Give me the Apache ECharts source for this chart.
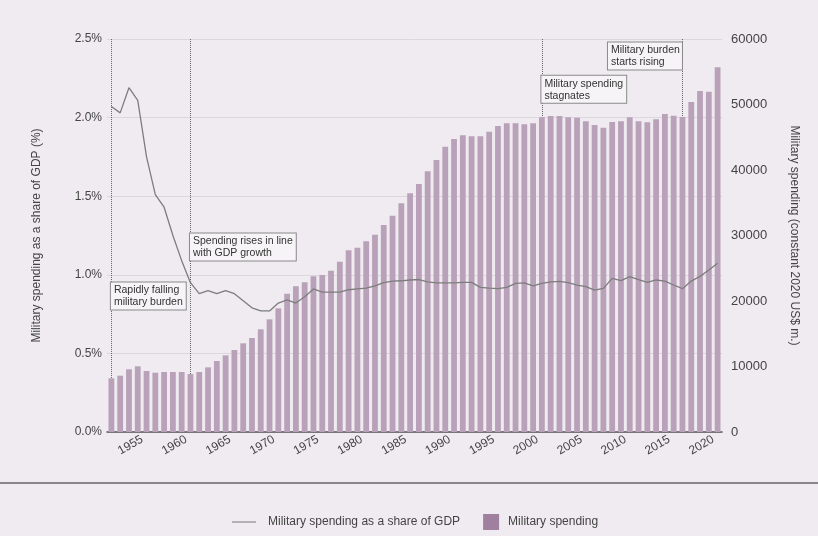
<!DOCTYPE html>
<html>
<head>
<meta charset="utf-8">
<script src="https://cdn.jsdelivr.net/npm/echarts@6/dist/echarts.min.js"></script>
<style>
  html, body { margin: 0; padding: 0; background: #efebf0; }
  #chart { width: 818px; height: 536px; }
</style>
</head>
<body>
<div id="chart"></div>
<script>
const years = ['1952','1953','1954','1955','1956','1957','1958','1959','1960','1961',
  '1962','1963','1964','1965','1966','1967','1968','1969','1970','1971',
  '1972','1973','1974','1975','1976','1977','1978','1979','1980','1981',
  '1982','1983','1984','1985','1986','1987','1988','1989','1990','1991',
  '1992','1993','1994','1995','1996','1997','1998','1999','2000','2001',
  '2002','2003','2004','2005','2006','2007','2008','2009','2010','2011',
  '2012','2013','2014','2015','2016','2017','2018','2019','2020','2021'];

// military spending, constant 2020 US$ m.
const spending = [8200, 8600, 9570, 10030, 9310, 9050, 9160, 9160, 9160, 8850,
  9160, 9870, 10840, 11700, 12520, 13540, 14350, 15680, 17200, 18880,
  21120, 22240, 22850, 23770, 23970, 24630, 26000, 27740, 28140, 29110,
  30120, 31600, 33020, 34920, 36440, 37860, 39800, 41530, 43560, 44730,
  45290, 45140, 45140, 45850, 46720, 47130, 47130, 46980, 47130, 48040,
  48240, 48240, 48040, 47990, 47430, 46870, 46460, 47330, 47430, 48040,
  47430, 47280, 47740, 48550, 48290, 48090, 50380, 52060, 51950, 55680];

// share of GDP (%)
const share = [2.07, 2.03, 2.19, 2.11, 1.75, 1.51, 1.43, 1.25, 1.09, 0.95,
  0.88, 0.90, 0.88, 0.90, 0.88, 0.835, 0.79, 0.77, 0.77, 0.82,
  0.84, 0.82, 0.86, 0.91, 0.89, 0.89, 0.89, 0.905, 0.91, 0.915,
  0.93, 0.95, 0.96, 0.962, 0.967, 0.97, 0.955, 0.948, 0.948, 0.948,
  0.952, 0.952, 0.92, 0.915, 0.912, 0.92, 0.946, 0.948, 0.93, 0.945,
  0.955, 0.958, 0.95, 0.935, 0.925, 0.903, 0.914, 0.977, 0.963, 0.988,
  0.97, 0.952, 0.967, 0.96, 0.935, 0.912, 0.96, 0.99, 1.03, 1.073];

const leftTicks = [0, 0.5, 1.0, 1.5, 2.0, 2.5];
const rightTicks = [0, 10000, 20000, 30000, 40000, 50000, 60000];

// years marked with a dotted line
const markYears = ['1952', '1961', '2001', '2017'];

// annotation boxes: year of the dotted line, height on the spending axis, text
const notes = [
  { year: '1952', at: 22750, side: 'left', text: 'Rapidly falling\nmilitary burden' },
  { year: '1961', at: 30230, side: 'left', text: 'Spending rises in line\nwith GDP growth' },
  { year: '2001', at: 54300, side: 'left', text: 'Military spending\nstagnates' },
  { year: '2017', at: 59400, side: 'right', text: 'Military burden\nstarts rising' }
];

const font = 'Liberation Sans, Arial, sans-serif';
const myChart = echarts.init(document.getElementById('chart'));

const guideLines = markYears.map(function (y) {
  return [{ coord: [y, rightTicks[rightTicks.length - 1]] },
          { coord: [y, spending[years.indexOf(y)]] }];
});

const notePoints = notes.map(function (n) {
  // each line is a fixed-width token so the text stays left aligned inside the box
  const lines = n.text.split('\n').map(function (s) { return '{t|' + s + '}'; });
  return {
    coord: [n.year, n.at],
    label: {
      show: true,
      formatter: lines.join('\n'),
      position: [0, 0],
      align: n.side,
      verticalAlign: 'top',
      backgroundColor: '#f6f4f6',
      borderColor: '#8a8a8a',
      borderWidth: 1,
      padding: [2, 3, 1, 3],
      rich: {
        t: {
          fontFamily: font,
          fontSize: 10.5,
          lineHeight: 12,
          color: '#333',
          align: 'left',
          width: n.side === 'right' ? 68 : null
        }
      }
    }
  };
});

const option = {
  backgroundColor: '#efebf0',
  animation: false,
  textStyle: { fontFamily: font },
  grid: { left: 107, right: 96, top: 39, bottom: 104 },
  legend: {
    left: 227,
    top: 509,
    itemWidth: 24,
    itemHeight: 16,
    itemGap: 23,
    textStyle: { fontSize: 12, color: '#444', fontFamily: font },
    data: [
      { name: 'Military spending as a share of GDP', icon: 'path://M0,8H24V9H0Z',
        itemStyle: { color: '#777' }, textStyle: { padding: [0, 0, 0, 7] } },
      { name: 'Military spending', icon: 'path://M0,0H16V16H0Z',
        itemStyle: { color: '#a0809f' } }
    ]
  },
  graphic: [{
    type: 'line',
    shape: { x1: 0, y1: 483, x2: 818, y2: 483 },
    style: { stroke: '#666', lineWidth: 1.5 }
  }],
  xAxis: {
    type: 'category',
    data: years,
    axisLine: { lineStyle: { color: '#555', width: 1.5 } },
    axisTick: { show: false },
    axisLabel: {
      interval: function (i, v) { return Number(v) % 5 === 0; },
      rotate: 30,
      fontSize: 12,
      color: '#444',
      margin: 9,
      padding: [0, -5, 0, 0]
    }
  },
  yAxis: [
    {
      type: 'value',
      min: leftTicks[0],
      max: leftTicks[leftTicks.length - 1],
      interval: 0.5,
      name: 'Military spending as a share of GDP (%)',
      nameLocation: 'middle',
      nameRotate: 90,
      nameGap: 64,
      nameTextStyle: { fontSize: 12, color: '#444' },
      axisLine: { show: false },
      axisTick: { show: false },
      axisLabel: {
        fontSize: 12, color: '#444', margin: 5,
        formatter: function (v) { return v.toFixed(1) + '%'; }
      },
      splitLine: { lineStyle: { color: '#dcd6dd', width: 1 } }
    },
    {
      type: 'value',
      min: rightTicks[0],
      max: rightTicks[rightTicks.length - 1],
      interval: 10000,
      name: 'Military spending (constant 2020 US$ m.)',
      nameLocation: 'middle',
      nameRotate: -90,
      nameGap: 66,
      nameTextStyle: { fontSize: 12, color: '#444' },
      axisLine: { show: false },
      axisTick: { show: false },
      axisLabel: {
        fontSize: 13, color: '#444', margin: 9,
        formatter: function (v) { return String(v); }
      },
      splitLine: { show: false }
    }
  ],
  series: [
    {
      name: 'Military spending',
      type: 'bar',
      yAxisIndex: 1,
      data: spending,
      barWidth: '66%',
      itemStyle: { color: '#b9a2b9' },
      markLine: {
        silent: true,
        symbol: 'none',
        label: { show: false },
        lineStyle: { color: '#666', type: 'dotted', width: 1 },
        data: guideLines
      },
      markPoint: {
        silent: true,
        symbol: 'rect',
        symbolSize: 1,
        itemStyle: { color: 'rgba(0,0,0,0)' },
        data: notePoints
      }
    },
    {
      name: 'Military spending as a share of GDP',
      type: 'line',
      yAxisIndex: 0,
      data: share,
      symbol: 'none',
      z: 5,
      lineStyle: { color: '#7d7d7d', width: 1.3 },
      itemStyle: { color: '#7d7d7d' }
    }
  ]
};
myChart.setOption(option);
</script>
</body>
</html>
